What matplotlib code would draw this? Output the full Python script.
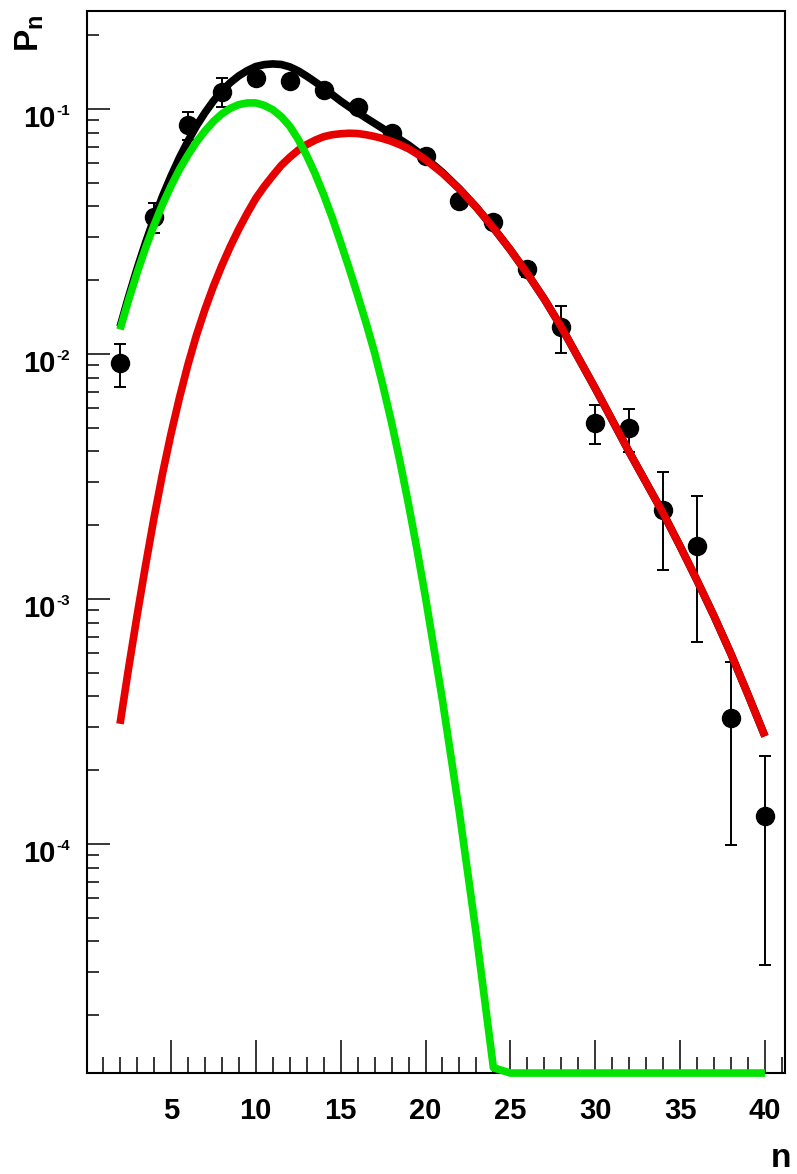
import numpy as np
import matplotlib
matplotlib.use("Agg")
import matplotlib.pyplot as plt
from matplotlib.ticker import FixedLocator, MultipleLocator, NullFormatter
from matplotlib.transforms import offset_copy

plt.rcParams['font.family'] = ['Liberation Sans', 'DejaVu Sans']
plt.rcParams['font.weight'] = 'bold'
plt.rcParams['mathtext.fontset'] = 'custom'
plt.rcParams['mathtext.rm'] = 'Liberation Sans:bold'
plt.rcParams['mathtext.it'] = 'Liberation Sans:bold'
plt.rcParams['mathtext.bf'] = 'Liberation Sans:bold'

# measured multiplicity distribution
n_data = [2, 4, 6, 8, 10, 12, 14, 16, 18, 20, 22, 24, 26, 28, 30, 32, 34, 36, 38, 40]
p_data = [0.00916, 0.0363, 0.0860, 0.1177, 0.1334, 0.1305, 0.1196, 0.1016, 0.0800, 0.0643,
          0.0423, 0.0347, 0.0222, 0.01293, 0.00525, 0.00497, 0.00231, 0.001645, 0.000326, 0.0001304]
p_err = [0.0018, 0.005, 0.011, 0.016, 0.006, 0.006, 0.005, 0.004, 0.003, 0.0025,
         0.0017, 0.0014, 0.0015, 0.0028, 0.00095, 0.001, 0.001, 0.00098, 0.000227, 0.0000985]

# fit curves: half steps up to n = 20, unit steps after
n_fit = [2, 2.5, 3, 3.5, 4, 4.5, 5, 5.5, 6, 6.5, 7, 7.5, 8, 8.5, 9, 9.5, 10, 10.5, 11, 11.5,
         12, 12.5, 13, 13.5, 14, 14.5, 15, 15.5, 16, 16.5, 17, 17.5, 18, 18.5, 19, 19.5, 20,
         21, 22, 23, 24, 25, 26, 27, 28, 29, 30, 31, 32, 33, 34, 35, 36, 37, 38, 39, 40]
p_soft = [1.259e-2, 1.656e-2, 2.138e-2, 2.704e-2, 3.350e-2, 4.074e-2, 4.842e-2, 5.662e-2,
          6.486e-2, 7.328e-2, 8.128e-2, 8.892e-2, 9.550e-2, 0.1007, 0.1042, 0.1059, 0.1059,
          0.1035, 9.931e-2, 9.311e-2, 8.511e-2, 7.516e-2, 6.457e-2, 5.433e-2, 4.467e-2,
          3.606e-2, 2.851e-2, 2.239e-2, 1.738e-2, 1.337e-2, 1.012e-2, 7.379e-3, 5.248e-3,
          3.622e-3, 2.432e-3, 1.589e-3, 1.014e-3,
          3.855e-4, 1.337e-4, 4.227e-5, 1.219e-5, 3.5e-6, 8.3e-7, 1.9e-7, 3.8e-8, 7.1e-9,
          1.2e-9, 1.9e-10, 2.7e-11, 3.5e-12, 4.2e-13, 4.5e-14, 4.5e-15, 4.1e-16, 3.4e-17,
          2.6e-18, 1.8e-19]
p_semi = [3.09e-4, 5.19e-4, 8.51e-4, 1.365e-3, 2.138e-3, 3.236e-3, 4.710e-3, 6.622e-3,
          9.036e-3, 1.191e-2, 1.517e-2, 1.888e-2, 2.296e-2, 2.748e-2, 3.236e-2, 3.758e-2,
          4.315e-2, 4.831e-2, 5.346e-2, 5.888e-2, 6.353e-2, 6.792e-2, 7.161e-2, 7.464e-2,
          7.709e-2, 7.852e-2, 7.925e-2, 7.962e-2, 7.943e-2, 7.852e-2, 7.727e-2, 7.568e-2,
          7.379e-2, 7.145e-2, 6.887e-2, 6.561e-2, 6.209e-2,
          5.470e-2, 4.710e-2, 3.963e-2, 3.273e-2, 2.661e-2, 2.128e-2, 1.675e-2, 1.288e-2,
          9.66e-3, 7.24e-3, 5.37e-3, 3.98e-3, 2.985e-3, 2.239e-3, 1.641e-3, 1.189e-3,
          8.51e-4, 5.96e-4, 4.07e-4, 2.75e-4]
p_total = [1.290e-2, 1.708e-2, 2.223e-2, 2.841e-2, 3.564e-2, 4.398e-2, 5.313e-2, 6.324e-2,
           7.390e-2, 8.519e-2, 9.645e-2, 0.1078, 0.1185, 0.1282, 0.1366, 0.1435, 0.1491,
           0.1518, 0.1528, 0.1520, 0.1486, 0.1431, 0.1362, 0.1290, 0.1218, 0.1146, 0.1078,
           0.1020, 0.0968, 0.0919, 0.0874, 0.0831, 0.0790, 0.0751, 0.0713, 0.0672, 0.0631,
           0.0551, 0.0472, 0.0397, 0.0327, 2.661e-2, 2.128e-2, 1.675e-2, 1.288e-2,
           9.66e-3, 7.24e-3, 5.37e-3, 3.98e-3, 2.985e-3, 2.239e-3, 1.641e-3, 1.189e-3,
           8.51e-4, 5.96e-4, 4.07e-4, 2.75e-4]

x_ticks = [5, 10, 15, 20, 25, 30, 35, 40]
y_ticks = [1e-4, 1e-3, 1e-2, 1e-1]
y_exps = ['-4', '-3', '-2', '-1']

ymin, ymax = 1.16e-5, 0.2523

fig = plt.figure(figsize=(7.97, 11.74), dpi=100)
ax = fig.add_axes([0.1095, 0.086, 0.8754, 0.905])
ax.set_yscale('log')
ax.set_xlim(0.07, 41.18)
ax.set_ylim(ymin, ymax)

ax.errorbar(n_data, p_data, yerr=p_err, fmt='o', color='black', ms=13,
            elinewidth=1.4, capsize=4, capthick=1.4, zorder=2)
ax.plot(n_fit, p_total, color='black', lw=5.5, solid_capstyle='butt', zorder=3)
ax.plot(n_fit, p_semi, color='#e60000', lw=5.5, solid_capstyle='butt', zorder=4)
# the narrow component runs along the frame once it drops below the axis range
ax.plot(n_fit, np.clip(p_soft, ymin, None), color='#00e400', lw=5.5,
        solid_capstyle='butt', zorder=5, clip_on=False)

for side in ax.spines.values():
    side.set_linewidth(1.5)

ax.xaxis.set_major_locator(FixedLocator(x_ticks))
ax.xaxis.set_minor_locator(MultipleLocator(1))
ax.set_xticklabels([str(v) for v in x_ticks])
ax.set_yticks(y_ticks)
ax.set_yticklabels([])
ax.yaxis.set_minor_formatter(NullFormatter())

ax.tick_params(axis='x', which='major', direction='in', length=23.5, width=1.1,
               labelsize=21, pad=17, top=False)
ax.tick_params(axis='x', which='minor', direction='in', length=11.5, width=1.1, top=False)
ax.tick_params(axis='y', which='major', direction='in', length=16.5, width=1.1, right=False)
ax.tick_params(axis='y', which='minor', direction='in', length=8.6, width=1.1, right=False)

# decade labels: "10" with a small raised exponent
ytrans = ax.get_yaxis_transform()
base_tr = offset_copy(ytrans, fig=fig, x=-32, y=-18, units='dots')
sup_tr = offset_copy(ytrans, fig=fig, x=-31, y=-6, units='dots')
for v, e in zip(y_ticks, y_exps):
    ax.text(0, v, '10', transform=base_tr, ha='right', va='baseline', fontsize=21,
            fontweight='bold', clip_on=False)
    ax.text(0, v, e, transform=sup_tr, ha='left', va='baseline', fontsize=11,
            fontweight='bold', clip_on=False)

fig.text(0.038, 0.988, r'$\mathbf{P_n}$', rotation=90, ha='center', va='top', fontsize=24)
fig.text(0.993, 0.0, 'n', ha='right', va='bottom', fontsize=24, fontweight='bold')

fig.savefig('out.png', dpi=100)
